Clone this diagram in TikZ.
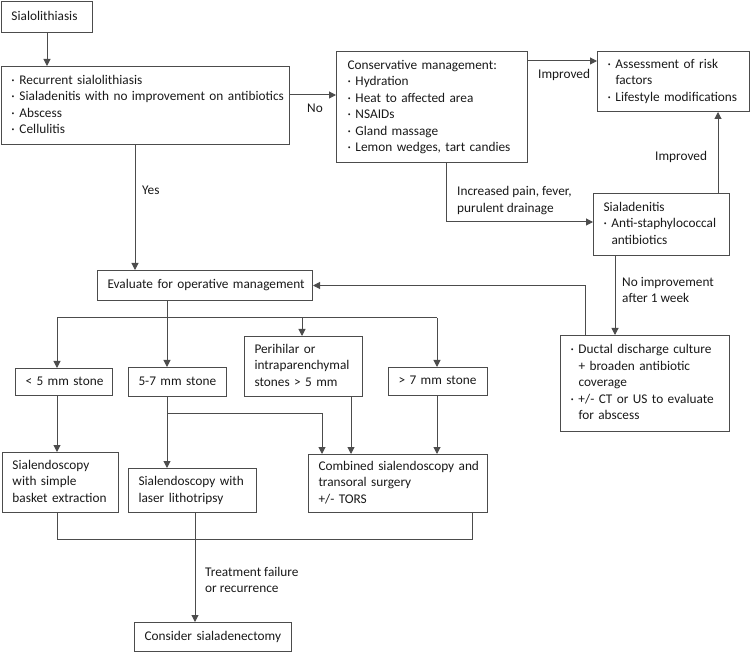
\documentclass[tikz,border=0pt]{standalone}
\usepackage{fontspec}
\setmainfont{Carlito}
\usetikzlibrary{arrows.meta}
\newcommand\bl{\makebox[8pt][l]{·}}
\newcommand\ind{\hspace*{8pt}}
\newcommand\tb[1]{\begin{tabular}{@{}l@{}}#1\end{tabular}}
\definecolor{linec}{gray}{0.3}
\begin{document}
\begin{tikzpicture}[x=1pt,y=-1pt,
  every node/.style={font=\fontsize{13.3}{16.5}\selectfont, text=black!90},
  box/.style={draw=linec, line width=1pt, anchor=north west, inner xsep=10pt, inner ysep=0pt, align=left},
  lab/.style={anchor=west, inner sep=0pt, align=left},
  arr/.style={draw=linec, line width=1pt, -{Triangle[length=7pt,width=7pt]}},
  ln/.style={draw=linec, line width=1pt}]
\useasboundingbox (0,0) rectangle (750,652);
% boxes
\node[box, text width=71pt,  minimum height=31pt]  (sial)   at (1,1)     {\tb{Sialolithiasis}};
\node[box, text width=268pt, minimum height=78pt]  (crit)   at (1,66)    {\tb{\bl Recurrent sialolithiasis\\ \bl Sialadenitis with no improvement on antibiotics\\ \bl Abscess\\ \bl Cellulitis}};
\node[box, text width=169pt, inner xsep=11pt, minimum height=111pt] (cons) at (336,51) {\tb{Conservative management:\\ \bl Hydration\\ \bl Heat to affected area\\ \bl NSAIDs\\ \bl Gland massage\\ \bl Lemon wedges, tart candies}};
\node[box, text width=131.5pt, minimum height=60pt] (assess) at (597,51)  {\tb{\bl Assessment of risk\\ \ind factors\\ \bl Lifestyle modifications}};
\node[box, text width=116pt, minimum height=62pt]  (sialad) at (593,193) {\tb{Sialadenitis\\ \bl Anti-staphylococcal\\ \ind antibiotics}};
\node[box, text width=195pt, minimum height=30pt]  (eval)   at (97,270)  {\tb{Evaluate for operative management}};
\node[box, text width=149pt, minimum height=96pt]  (ductal) at (560,335) {\tb{\bl Ductal discharge culture\\ \ind + broaden antibiotic\\ \ind coverage\\ \bl +/- CT or US to evaluate\\ \ind for abscess}};
\node[box, text width=77pt,  minimum height=27pt]  (lt5)    at (15,368)  {\tb{< 5 mm stone}};
\node[box, text width=78pt,  minimum height=29pt]  (s57)    at (128,367) {\tb{5-7 mm stone}};
\node[box, text width=98pt,  minimum height=60pt]  (peri)   at (244,336) {\tb{Perihilar or\\ intraparenchymal\\ stones > 5 mm}};
\node[box, text width=79pt,  minimum height=28pt]  (gt7)    at (388,367) {\tb{> 7 mm stone}};
\node[box, text width=96pt,  minimum height=60pt]  (basket) at (2,452)   {\tb{Sialendoscopy\\ with simple\\ basket extraction}};
\node[box, text width=108pt, minimum height=44pt]  (laser)  at (128,468) {\tb{Sialendoscopy with\\ laser lithotripsy}};
\node[box, text width=159pt, minimum height=58pt]  (comb)   at (308,454) {\tb{Combined sialendoscopy and\\ transoral surgery\\ +/- TORS}};
\node[box, text width=137pt, minimum height=29pt]  (consider) at (134,622) {\tb{Consider sialadenectomy}};
% helper coordinates
\coordinate (x47) at (47,0);
\coordinate (x135) at (135,0);
\coordinate (x446) at (446,0);
\coordinate (x718) at (718,0);
\coordinate (x615) at (615,0);
\coordinate (x585) at (585,0);
\coordinate (x167) at (167,0);
\coordinate (x57) at (57,0);
\coordinate (x302) at (302,0);
\coordinate (x437) at (437,0);
\coordinate (x322) at (322,0);
\coordinate (x351) at (351,0);
\coordinate (x195) at (195,0);
\coordinate (x472) at (472,0);
\coordinate (y95) at (0,95);
\coordinate (y61) at (0,61);
\coordinate (y222) at (0,222);
\coordinate (br) at (167,318);
\coordinate (br2) at (167,413);
\coordinate (m1) at (57,539);
\coordinate (m2) at (472,539);
% connectors
\draw[arr] (sial.south -| x47) -- (crit.north -| x47);
\draw[arr] (crit.east |- y95) -- (cons.west |- y95);
\draw[arr] (cons.east |- y61) -- (assess.west |- y61);
\draw[arr] (cons.south -| x446) |- (sialad.west |- y222);
\draw[arr] (sialad.north -| x718) -- (assess.south -| x718);
\draw[arr] (sialad.south -| x615) -- (ductal.north -| x615);
\draw[arr] (ductal.north -| x585) |- (eval.east);
\draw[arr] (crit.south -| x135) -- (eval.north -| x135);
\draw[arr] (eval.south -| x167) -- (s57.north -| x167);
\draw[ln] (br -| x57) -- (br -| x437);
\draw[arr] (br -| x57) -- (lt5.north -| x57);
\draw[arr] (br -| x302) -- (peri.north -| x302);
\draw[arr] (br -| x437) -- (gt7.north -| x437);
\draw[arr] (s57.south -| x167) -- (laser.north -| x167);
\draw[arr] (br2) -| (comb.north -| x322);
\draw[arr] (peri.south -| x351) -- (comb.north -| x351);
\draw[arr] (gt7.south -| x437) -- (comb.north -| x437);
\draw[arr] (lt5.south -| x57) -- (basket.north -| x57);
\draw[ln] (basket.south -| x57) -- (m1) -- (m2) -- (comb.south -| x472);
\draw[arr] (laser.south -| x195) -- (consider.north -| x195);
% labels
\node[lab] (lno) at (307,109) {\tb{No}};
\node[lab] (lyes) at (142,191) {\tb{Yes}};
\node[lab] (limp1) at (538,75) {\tb{Improved}};
\node[lab] (limp2) at (655,157) {\tb{Improved}};
\node[lab] (linc) at (457,200.5) {\tb{Increased pain, fever,\\ purulent drainage}};
\node[lab] (lnoimp) at (622,291) {\tb{No improvement\\ after 1 week}};
\node[lab] (ltreat) at (205,581) {\tb{Treatment failure\\ or recurrence}};
\end{tikzpicture}
\end{document}
